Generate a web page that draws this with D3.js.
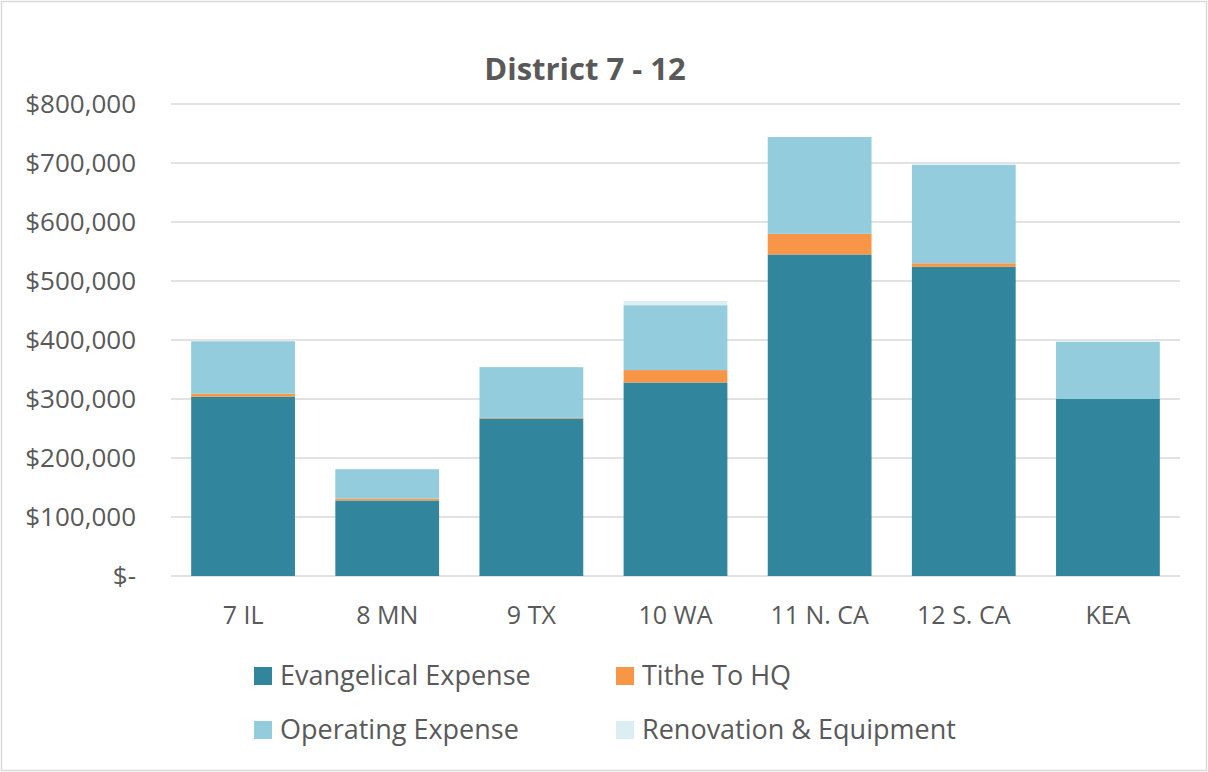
<!DOCTYPE html>
<html>
<head>
<meta charset="utf-8">
<script src="https://cdn.jsdelivr.net/npm/d3@7"></script>
<style>
  body { margin: 0; background: #fff; }
  text { font-family: "Open Sans", "Noto Sans", sans-serif; fill: #595959; }
</style>
</head>
<body>
<script>
// chart data
var districts = ["7 IL", "8 MN", "9 TX", "10 WA", "11 N. CA", "12 S. CA", "KEA"];
var evangelical = [304000, 128000, 267000, 328000, 545000, 524000, 300000];
var tithe = [5000, 3000, 1000, 21000, 35000, 6000, 0];
var operating = [89000, 50000, 86000, 110000, 164000, 167000, 97000];
var renovation = [1000, 0, 0, 7000, 0, 1000, 1000];
var seriesNames = ["Evangelical Expense", "Tithe To HQ", "Operating Expense", "Renovation & Equipment"];
var yTicks = [0, 100000, 200000, 300000, 400000, 500000, 600000, 700000, 800000];

var colors = ["#31859C", "#F79646", "#93CDDD", "#DAEEF3"];

var width = 1208, height = 772;
var margin = {top: 104, left: 171, right: 28, bottom: 196};

var svg = d3.select("body").append("svg")
    .attr("width", width)
    .attr("height", height);

// chart frame
svg.append("rect")
    .attr("x", 1.5).attr("y", 1.5)
    .attr("width", width - 3).attr("height", height - 3)
    .attr("fill", "#fff")
    .attr("stroke", "#d9d9d9")
    .attr("stroke-width", 1.5);

var x = d3.scaleBand()
    .domain(districts)
    .range([margin.left, width - margin.right])
    .paddingInner(0.28)
    .paddingOuter(0.14);

var y = d3.scaleLinear()
    .domain([0, 800000])
    .range([height - margin.bottom, margin.top]);

// gridlines
svg.append("g")
    .selectAll("line")
    .data(yTicks)
    .enter().append("line")
    .attr("x1", margin.left)
    .attr("x2", width - margin.right)
    .attr("y1", function(d) { return y(d); })
    .attr("y2", function(d) { return y(d); })
    .attr("stroke", "#d9d9d9")
    .attr("stroke-width", 1.5);

// y labels
svg.append("g")
    .selectAll("text")
    .data(yTicks)
    .enter().append("text")
    .attr("x", 136)
    .attr("y", function(d) { return y(d); })
    .attr("dy", "0.35em")
    .attr("text-anchor", "end")
    .style("font-size", "26px")
    .text(function(d) { return d === 0 ? "$-" : "$" + d3.format(",")(d); });

// stacked bars
var table = districts.map(function(d, i) {
  return {district: d, s0: evangelical[i], s1: tithe[i], s2: operating[i], s3: renovation[i]};
});
var stack = d3.stack().keys(["s0", "s1", "s2", "s3"])(table);

svg.append("g")
    .selectAll("g")
    .data(stack)
    .enter().append("g")
    .attr("fill", function(d, i) { return colors[i]; })
  .selectAll("rect")
    .data(function(d) { return d; })
    .enter().append("rect")
    .attr("x", function(d) { return x(d.data.district); })
    .attr("width", x.bandwidth())
    .attr("y", function(d) { return y(d[1]); })
    .attr("height", function(d) { return y(d[0]) - y(d[1]); });

// x labels
svg.append("g")
    .selectAll("text")
    .data(districts)
    .enter().append("text")
    .attr("x", function(d) { return x(d) + x.bandwidth() / 2; })
    .attr("y", 615)
    .attr("dy", "0.35em")
    .attr("text-anchor", "middle")
    .style("font-size", "25px")
    .text(function(d) { return d; });

// title
svg.append("text")
    .attr("x", 585)
    .attr("y", 69)
    .attr("dy", "0.35em")
    .attr("text-anchor", "middle")
    .style("font-size", "31px")
    .style("font-weight", "bold")
    .text("District 7 - 12");

// legend
var legendPos = [[254, 676], [616, 676], [254, 730], [616, 730]];
var legend = svg.selectAll(".legend")
    .data(seriesNames)
    .enter().append("g")
    .attr("class", "legend")
    .attr("transform", function(d, i) { return "translate(" + legendPos[i][0] + "," + legendPos[i][1] + ")"; });

legend.append("rect")
    .attr("x", 0)
    .attr("y", -9)
    .attr("width", 18)
    .attr("height", 18)
    .attr("fill", function(d, i) { return colors[i]; });

legend.append("text")
    .attr("x", 26)
    .attr("y", 0)
    .attr("dy", "0.35em")
    .style("font-size", "27px")
    .text(function(d) { return d; });
</script>
</body>
</html>
